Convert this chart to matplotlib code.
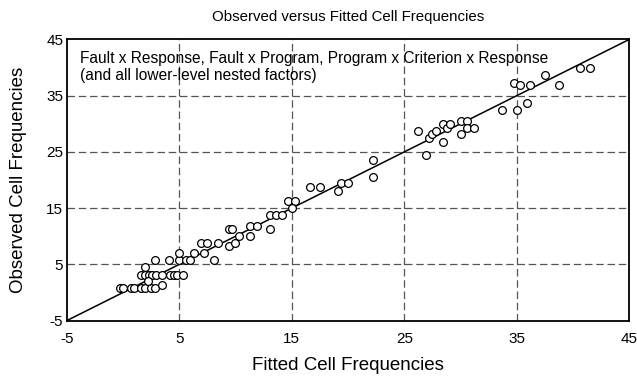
import matplotlib
matplotlib.use("Agg")
import matplotlib.pyplot as plt

# ─── data ────────────────────────────────────────────────────────────────────
fitted = [
    -0.26, 0.05, 0.69, 0.98, 1.6, 1.93, 2.5, 2.84, 3.44,
    1.6, 1.93, 2.3, 2.6, 2.9, 3.49, 4.2, 4.5, 4.8, 5.36,
    2.2, 1.96, 2.84, 4.09, 5.0, 5.0, 5.6, 5.95, 6.3, 7.2,
    6.9, 7.5, 8.46, 8.1, 9.4, 10.0, 9.4, 9.7, 10.3,
    11.27, 11.27, 11.9, 13.1, 13.1, 13.6, 14.1, 14.7, 15.3, 15.0,
    16.6, 17.5, 19.1, 19.4, 20.0, 22.2, 22.2,
    26.2, 26.9, 27.2, 27.5, 27.8, 28.4, 28.4, 28.8, 29.1,
    30.0, 30.0, 30.6, 30.6, 31.2, 33.7, 35.0, 35.9,
    34.7, 35.3, 36.2, 37.5, 38.7, 40.6, 41.5,
]
observed = [
    0.8, 0.8, 0.8, 0.8, 0.8, 0.8, 0.8, 0.8, 1.35,
    3.2, 3.2, 3.2, 3.2, 3.2, 3.2, 3.2, 3.2, 3.2, 3.2,
    2.1, 4.6, 5.7, 5.7, 5.7, 7.1, 5.7, 5.7, 7.1, 7.1,
    8.8, 8.8, 8.8, 5.7, 8.2, 8.8, 11.3, 11.3, 10.0,
    11.9, 10.0, 11.9, 11.3, 13.8, 13.8, 13.8, 16.2, 16.2, 15.0,
    18.8, 18.8, 18.1, 19.4, 19.4, 23.6, 20.6,
    28.7, 24.4, 27.5, 28.1, 28.7, 29.9, 26.8, 29.3, 29.9,
    30.5, 28.1, 30.5, 29.2, 29.2, 32.4, 32.4, 33.6,
    37.3, 36.8, 36.8, 38.6, 36.8, 39.9, 39.9,
]
ticks = [-5, 5, 15, 25, 35, 45]
note = ("Fault x Response, Fault x Program, Program x Criterion x Response\n"
        "(and all lower-level nested factors)")

plt.rcParams["font.family"] = ["Liberation Sans", "DejaVu Sans"]
plt.rcParams["axes.unicode_minus"] = False

fig = plt.figure(figsize=(6.37, 3.78), dpi=100)
ax = fig.add_axes([0.1046, 0.1516, 0.8836, 0.7444])

# grid at the inner ticks
for v in ticks[1:-1]:
    ax.axvline(v, color="#555555", linestyle=(0, (6, 3)), linewidth=0.9, zorder=1)
    ax.axhline(v, color="#555555", linestyle=(0, (6, 3)), linewidth=0.9, zorder=1)

ax.plot([ticks[0], ticks[-1]], [ticks[0], ticks[-1]], color="black", linewidth=1.1, zorder=2)
ax.plot(fitted, observed, "o", markersize=5.6, markerfacecolor="white",
        markeredgecolor="black", markeredgewidth=0.9, linestyle="none", zorder=3)

ax.set_xlim(ticks[0], ticks[-1])
ax.set_ylim(ticks[0], ticks[-1])
ax.set_xticks(ticks)
ax.set_yticks(ticks)
ax.tick_params(length=0, labelsize=11)
ax.tick_params(axis="x", pad=8)
ax.tick_params(axis="y", pad=2.5)
for s in ax.spines.values():
    s.set_linewidth(1.3)

ax.text(-3.8, 42.9, note, fontsize=11.2, va="top", ha="left", linespacing=1.15)

ax.set_title("Observed versus Fitted Cell Frequencies", fontsize=10.8, pad=13)
ax.set_xlabel("Fitted Cell Frequencies", fontsize=13.5, labelpad=8)
ax.set_ylabel("Observed Cell Frequencies", fontsize=13.5, labelpad=14)

fig.savefig("out.png", dpi=100)
